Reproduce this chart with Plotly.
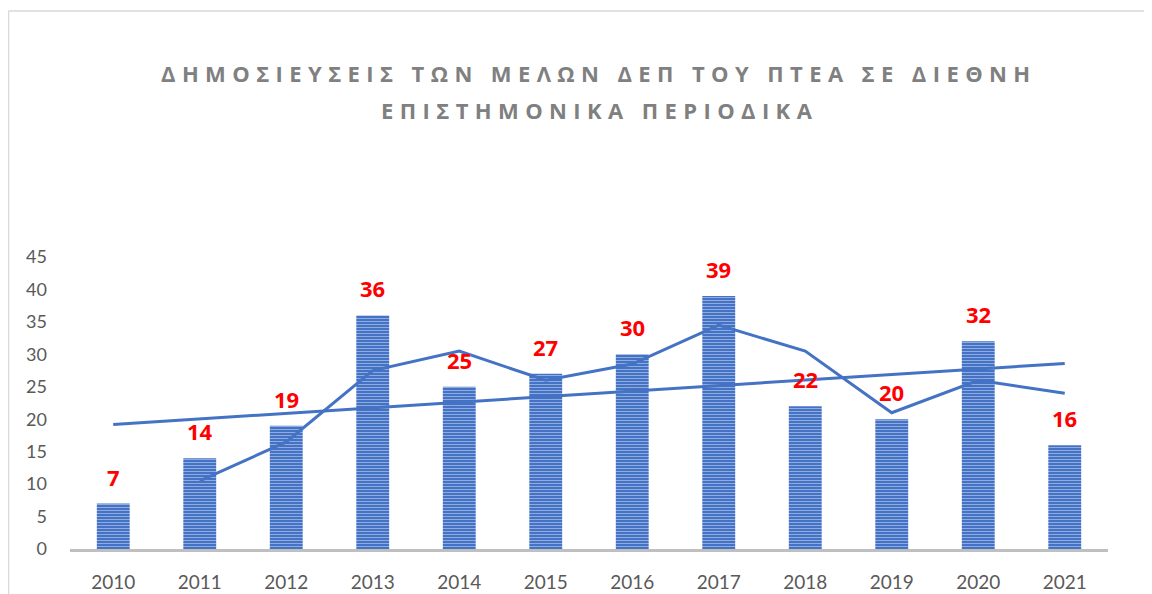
import plotly.graph_objects as go

years = ["2010", "2011", "2012", "2013", "2014", "2015", "2016", "2017", "2018", "2019", "2020", "2021"]
publications = [7, 14, 19, 36, 25, 27, 30, 39, 22, 20, 32, 16]
# 2-period moving average (starts at 2011)
mov_avg_years = ["2011", "2012", "2013", "2014", "2015", "2016", "2017", "2018", "2019", "2020", "2021"]
mov_avg = [10.5, 16.5, 27.5, 30.5, 26, 28.5, 34.5, 30.5, 21, 26, 24]
# linear trend line endpoints
trend_years = ["2010", "2021"]
trend_vals = [19.2, 28.6]
y_ticks = [0, 5, 10, 15, 20, 25, 30, 35, 40, 45]
title_line1 = "ΔΗΜΟΣΙΕΥΣΕΙΣ ΤΩΝ ΜΕΛΩΝ ΔΕΠ ΤΟΥ ΠΤΕΑ ΣΕ ΔΙΕΘΝΗ"
title_line2 = "ΕΠΙΣΤΗΜΟΝΙΚΑ ΠΕΡΙΟΔΙΚΑ"

BLUE = "#4472C4"
FONT = "Lato, 'Open Sans', sans-serif"
BOLD_FONT = "'Open Sans', Lato, sans-serif"

OFF = 8  # page body margin
W, H = 1144, 586
ML, MR, MT, MB = 62, 44, 249, 45
PW, PH = W - ML - MR, H - MT - MB

def px_x(x):  # page pixel -> paper
    return (x - OFF - ML) / PW

def px_y(y):
    return (H - MB - (y - OFF)) / PH

fig = go.Figure()
fig.add_trace(go.Bar(
    x=years, y=publications, width=0.38,
    marker=dict(color=BLUE, line=dict(width=0),
                pattern=dict(shape="-", fgcolor="#dbe4f6", bgcolor=BLUE,
                             size=3, solidity=0.35, fillmode="overlay")),
    showlegend=False, hoverinfo="x+y",
))
fig.add_trace(go.Scatter(
    x=mov_avg_years, y=mov_avg, mode="lines",
    line=dict(color=BLUE, width=3), showlegend=False,
))
fig.add_trace(go.Scatter(
    x=trend_years, y=trend_vals, mode="lines",
    line=dict(color=BLUE, width=3), showlegend=False,
))

for i, v in enumerate(publications):
    fig.add_annotation(x=i, y=v, xref="x", yref="y", text=f"<b>{v}</b>", showarrow=False,
                       yanchor="middle", yshift=27,
                       font=dict(family=BOLD_FONT, size=22, color="#FF0000"))

fig.add_annotation(xref="paper", yref="paper", x=px_x(599), y=px_y(73),
                   text=f"<b><span style='letter-spacing:6.4px'>{title_line1}</span></b>",
                   showarrow=False, xanchor="center", yanchor="middle",
                   font=dict(family=BOLD_FONT, size=22, color="#808080"))
fig.add_annotation(xref="paper", yref="paper", x=px_x(599), y=px_y(110),
                   text=f"<b><span style='letter-spacing:6.4px'>{title_line2}</span></b>",
                   showarrow=False, xanchor="center", yanchor="middle",
                   font=dict(family=BOLD_FONT, size=22, color="#808080"))

# chart-area border (left and top visible)
fig.add_shape(type="line", xref="paper", yref="paper",
              x0=px_x(8.5), x1=px_x(8.5), y0=px_y(11), y1=px_y(600),
              line=dict(color="#D9D9D9", width=1.5))
fig.add_shape(type="line", xref="paper", yref="paper",
              x0=px_x(8.5), x1=px_x(1160), y0=px_y(11), y1=px_y(11),
              line=dict(color="#D9D9D9", width=1.5))

fig.update_layout(
    width=W, height=H,
    margin=dict(l=ML, r=MR, t=MT, b=MB),
    paper_bgcolor="white", plot_bgcolor="white",
    font=dict(family=FONT, size=19, color="#595959"),
    xaxis=dict(type="category", range=[-0.5, 11.5], showgrid=False,
               showline=True, linecolor="#BFBFBF", linewidth=3,
               ticks="", tickfont=dict(size=19, color="#595959"),
               ticklabelstandoff=14, automargin=False),
    yaxis=dict(range=[0, 45], tickvals=y_ticks, showgrid=False,
               showline=False, zeroline=False, ticks="",
               tickfont=dict(size=18, color="#595959"), ticklabelstandoff=22,
               automargin=False),
)

fig.write_html("out.html")
